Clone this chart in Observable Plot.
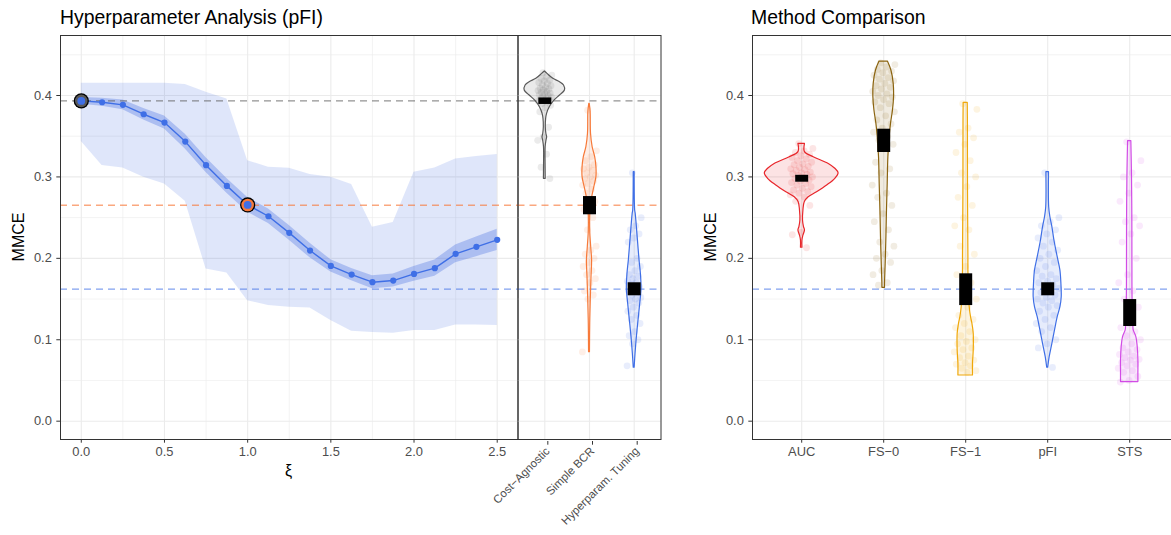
<!DOCTYPE html>
<html><head><meta charset="utf-8">
<script src="https://cdn.jsdelivr.net/npm/d3@7"></script>
<script src="https://cdn.jsdelivr.net/npm/@observablehq/plot@0.6"></script>
<style>
html,body{margin:0;padding:0;background:#fff;overflow:hidden;}
#root{position:relative;width:1171px;height:535px;overflow:hidden;font-family:"Liberation Sans",Arial,Helvetica,sans-serif;}
.abs{position:absolute;white-space:nowrap;line-height:1;color:#000;}
.title{font-size:19.4px;}
.ylab{font-size:16px;transform:translate(-50%,-50%) rotate(-90deg);}
</style></head><body><div id="root"></div>
<script>
// ---------- Data: hyperparameter curve ----------
const xi = [0,0.125,0.25,0.375,0.5,0.625,0.75,0.875,1,1.125,1.25,1.375,1.5,1.625,1.75,1.875,2,2.125,2.25,2.375,2.5];
const mmceMean  = [0.3934,0.3917,0.3885,0.377,0.3668,0.3434,0.3144,0.289,0.2656,0.2517,0.2313,0.2096,0.1907,0.1801,0.1707,0.1727,0.1809,0.1879,0.2055,0.2141,0.2227];
const innerLower= [0.3894,0.3867,0.3825,0.370,0.3588,0.3344,0.3054,0.280,0.2566,0.2427,0.2223,0.2006,0.1832,0.1726,0.1627,0.1647,0.1719,0.1779,0.1945,0.2021,0.2097];
const innerUpper= [0.3974,0.3967,0.3945,0.384,0.3748,0.3524,0.3234,0.298,0.2746,0.2607,0.2403,0.2186,0.1982,0.1876,0.1787,0.1807,0.1899,0.1979,0.2165,0.2261,0.2357];
const outerLower= [0.3434,0.314,0.311,0.2996,0.2914,0.270,0.187,0.182,0.148,0.142,0.140,0.139,0.1236,0.1105,0.1089,0.108,0.1113,0.1113,0.118,0.118,0.1175];
const outerUpper= [0.415,0.415,0.415,0.415,0.415,0.4134,0.404,0.3958,0.320,0.312,0.3107,0.303,0.2996,0.2906,0.2382,0.244,0.3058,0.311,0.322,0.325,0.3275];

// reference methods (left violin panel)
const refMethods = ["Cost\u2212Agnostic","Simple BCR","Hyperparam. Tuning"];
const refLevels  = [0.3934,0.2652,0.1621];
const refXi      = [0, 1.0];          // xi where the curve equals the first two references
const refColors  = ["#595959","#f77a3a","#3f6fe6"];
const refBoxLo   = [0.389,0.2535,0.154];
const refBoxHi   = [0.397,0.2759,0.170];

// violin profiles: [MMCE, half-width in category units]
const violinCostAgnostic = [[0.4295,0],[0.4266,0.06],[0.4205,0.19],[0.4163,0.34],[0.4123,0.43],[0.4061,0.45],[0.40,0.34],[0.3939,0.22],[0.3856,0.11],[0.3775,0.05],[0.3714,0.03],[0.361,0.022],[0.353,0.035],[0.3488,0.052],[0.344,0.035],[0.3365,0.018],[0.31,0.018],[0.2977,0.02]];
const violinSimpleBCR = [[0.3898,0.005],[0.38,0.025],[0.353,0.034],[0.3365,0.07],[0.324,0.128],[0.312,0.155],[0.2997,0.155],[0.2874,0.108],[0.275,0.06],[0.2588,0.022],[0.234,0.016],[0.2137,0.038],[0.1974,0.058],[0.177,0.045],[0.1523,0.03],[0.12,0.016],[0.0848,0.01]];
const violinHyperTuning = [[0.3058,0.01],[0.2588,0.022],[0.2547,0.034],[0.2383,0.06],[0.2178,0.09],[0.1974,0.12],[0.181,0.15],[0.1626,0.164],[0.1442,0.135],[0.1237,0.097],[0.1032,0.06],[0.0828,0.03],[0.0656,0.01]];

// jittered run results (left violin panel)
const runsCostAgnostic = [0.428,0.425,0.423,0.421,0.419,0.418,0.416,0.415,0.413,0.412,0.41,0.409,0.408,0.407,0.406,0.405,0.404,0.403,0.402,0.401,0.4,0.399,0.398,0.397,0.396,0.395,0.394,0.393,0.392,0.39,0.388,0.385,0.38,0.361,0.349,0.345,0.328,0.312,0.298];
const runsSimpleBCR = [0.382,0.332,0.325,0.32,0.315,0.312,0.31,0.308,0.305,0.302,0.3,0.298,0.295,0.292,0.29,0.285,0.28,0.27,0.265,0.26,0.25,0.235,0.215,0.21,0.205,0.2,0.195,0.19,0.185,0.18,0.175,0.17,0.16,0.155,0.15,0.085];
const runsHyperTuning = [0.305,0.25,0.24,0.235,0.23,0.225,0.22,0.2,0.195,0.19,0.185,0.18,0.178,0.175,0.172,0.17,0.168,0.165,0.163,0.16,0.158,0.155,0.152,0.15,0.148,0.145,0.14,0.135,0.13,0.125,0.12,0.11,0.105,0.1,0.095,0.068];

// ---------- Data: method comparison ----------
const methods = ["AUC","FS\u22120","FS\u22121","pFI","STS"];
const methodColors = ["#e8262b","#8b6410","#f0a80a","#3f6fe6","#d24ce6"];
const methodBoxLo = [0.2935,0.330,0.142,0.154,0.1163];
const methodBoxHi = [0.302,0.3586,0.181,0.170,0.1494];
const methodRef = [0.1621];
const violinAUC = [[0.3407,0.04],[0.3305,0.04],[0.3242,0.146],[0.316,0.33],[0.31,0.41],[0.3046,0.45],[0.2977,0.41],[0.2895,0.31],[0.2812,0.187],[0.275,0.085],[0.269,0.037],[0.2588,0.021],[0.2465,0.016],[0.2383,0.028],[0.2342,0.04],[0.228,0.021],[0.2219,0.009],[0.213,0.009]];
const violinFS0 = [[0.4417,0.051],[0.4307,0.094],[0.4143,0.122],[0.3979,0.126],[0.3816,0.113],[0.3652,0.089],[0.3488,0.073],[0.3242,0.057],[0.2916,0.049],[0.2588,0.04],[0.226,0.033],[0.1933,0.024],[0.1687,0.016],[0.1638,0.016]];
const violinFS1 = [[0.391,0.025],[0.3652,0.027],[0.2833,0.028],[0.2014,0.033],[0.185,0.033],[0.16,0.04],[0.14,0.049],[0.1277,0.065],[0.1196,0.082],[0.1073,0.098],[0.0868,0.098],[0.0705,0.089],[0.0561,0.089]];
const violinPFI = [[0.3058,0.016],[0.2628,0.018],[0.2505,0.033],[0.2383,0.057],[0.2219,0.082],[0.2014,0.122],[0.1851,0.155],[0.1687,0.167],[0.1523,0.171],[0.14,0.155],[0.1277,0.122],[0.1114,0.089],[0.095,0.057],[0.0786,0.024],[0.0656,0.006]];
const violinSTS = [[0.3439,0.02],[0.3,0.028],[0.25,0.032],[0.2,0.033],[0.15,0.035],[0.1163,0.045],[0.1114,0.049],[0.103,0.082],[0.0909,0.098],[0.0745,0.106],[0.0582,0.106],[0.048,0.106]];
const runsAUC = [0.341,0.335,0.332,0.33,0.328,0.326,0.324,0.322,0.32,0.318,0.316,0.315,0.313,0.312,0.31,0.309,0.308,0.306,0.305,0.304,0.303,0.302,0.3,0.299,0.298,0.296,0.295,0.293,0.292,0.29,0.288,0.286,0.284,0.282,0.28,0.278,0.275,0.27,0.265,0.232,0.229,0.213];
const runsFS0 = [0.44,0.438,0.435,0.432,0.43,0.428,0.425,0.422,0.42,0.418,0.415,0.412,0.41,0.408,0.405,0.402,0.4,0.398,0.395,0.392,0.39,0.385,0.38,0.375,0.37,0.365,0.36,0.355,0.35,0.345,0.34,0.335,0.318,0.31,0.305,0.29,0.28,0.275,0.265,0.255,0.245,0.235,0.22,0.215,0.205,0.2,0.195,0.185,0.18,0.17,0.167];
const runsFS1 = [0.39,0.383,0.36,0.355,0.348,0.34,0.33,0.32,0.305,0.3,0.288,0.275,0.265,0.25,0.24,0.235,0.215,0.205,0.19,0.18,0.17,0.16,0.15,0.14,0.13,0.125,0.12,0.115,0.11,0.105,0.1,0.098,0.095,0.09,0.088,0.085,0.08,0.078,0.075,0.072,0.07,0.068,0.065,0.062,0.06];
const runsPFI = [0.305,0.25,0.245,0.24,0.235,0.23,0.225,0.22,0.215,0.21,0.205,0.2,0.195,0.19,0.185,0.18,0.178,0.175,0.172,0.17,0.168,0.165,0.163,0.16,0.158,0.155,0.152,0.15,0.148,0.145,0.142,0.14,0.135,0.13,0.125,0.12,0.115,0.11,0.1,0.095,0.09,0.066];
const runsSTS = [0.343,0.32,0.305,0.3,0.29,0.28,0.27,0.25,0.245,0.24,0.23,0.22,0.2,0.18,0.17,0.16,0.15,0.14,0.12,0.115,0.11,0.105,0.1,0.095,0.09,0.088,0.085,0.082,0.08,0.078,0.076,0.075,0.072,0.07,0.068,0.065,0.062,0.06,0.055,0.05,0.048];

const yMajor = [0,0.1,0.2,0.3,0.4];
const yMinor = [0.05,0.15,0.25,0.35,0.45];
const xMajor = [0,0.5,1,1.5,2,2.5];
const xMinor = [0.25,0.75,1.25,1.75,2.25];

// ---------- layout ----------
const root = document.getElementById("root");
const yDomain = [-0.0225, 0.4737];
const font = '"Liberation Sans", Arial, Helvetica, sans-serif';
const baseStyle = {fontFamily: font, fontSize: "12.9px", color: "#4d4d4d", background: "transparent", overflow: "visible"};
const gridCol = "#ebebeb";
const blue = "#3f6fe6";
const dashOpts = {strokeOpacity: 0.65, strokeWidth: 1.3, strokeDasharray: "7,5"};

function place(el, left, top) {
  el.style.position = "absolute"; el.style.left = left + "px"; el.style.top = top + "px";
  root.appendChild(el);
}
function text(str, cls, left, top, extra) {
  const d = document.createElement("div");
  d.className = "abs " + cls; d.textContent = str;
  d.style.left = left + "px"; d.style.top = top + "px";
  if (extra) Object.assign(d.style, extra);
  root.appendChild(d);
}
// deterministic spread (golden-ratio sequence) for jittered points
function spread(i) { const f = (i * 0.6180339887 + 0.37) % 1; return f - 0.5; }

function violinMarks(profiles, runs, colors, boxLo, boxHi, jitter) {
  const marks = [];
  profiles.forEach((prof, k) => {
    const pos = k + 1;
    marks.push(Plot.areaX(prof, {
      y: d => d[0], x1: d => pos - d[1], x2: d => pos + d[1],
      fill: colors[k], fillOpacity: 0.13, stroke: colors[k], strokeWidth: 1.2, curve: "catmull-rom"
    }));
  });
  runs.forEach((vals, k) => {
    const pos = k + 1;
    marks.push(Plot.dot(vals, {
      y: d => d, x: (d, i) => pos + spread(i) * 2 * jitter,
      r: 3.4, fill: colors[k], fillOpacity: 0.12, stroke: null
    }));
  });
  marks.push(Plot.ruleX(boxLo.map((lo, k) => ({pos: k + 1, lo, hi: boxHi[k]})), {
    x: "pos", y1: "lo", y2: "hi", stroke: "black", strokeWidth: 13, strokeLinecap: "butt"
  }));
  return marks;
}

// ---------- Panel 1: hyperparameter curve ----------
const curve = xi.map((x, i) => ({xi: x, mean: mmceMean[i], iLo: innerLower[i], iHi: innerUpper[i], oLo: outerLower[i], oHi: outerUpper[i]}));
const highlights = refXi.map((x, i) => ({xi: x, y: mmceMean[xi.indexOf(x)], color: refColors[i]}));
const refRows = refLevels.map((v, i) => ({v, c: refColors[i]}));

const p1 = Plot.plot({
  width: 518, height: 510, marginTop: 10, marginBottom: 96, marginLeft: 60, marginRight: 0.5,
  style: baseStyle,
  x: {domain: [-0.125, 2.625], label: null},
  y: {domain: yDomain, label: null},
  marks: [
    Plot.ruleY(yMinor, {stroke: gridCol, strokeWidth: 0.6}),
    Plot.ruleX(xMinor, {stroke: gridCol, strokeWidth: 0.6}),
    Plot.ruleY(yMajor, {stroke: gridCol, strokeWidth: 1.1}),
    Plot.ruleX(xMajor, {stroke: gridCol, strokeWidth: 1.1}),
    Plot.areaY(curve, {x: "xi", y1: "oLo", y2: "oHi", fill: "#4169e1", fillOpacity: 0.17}),
    Plot.areaY(curve, {x: "xi", y1: "iLo", y2: "iHi", fill: "#4169e1", fillOpacity: 0.32}),
    Plot.ruleY(refRows, {y: "v", stroke: "c", ...dashOpts}),
    Plot.line(curve, {x: "xi", y: "mean", stroke: blue, strokeWidth: 1.4}),
    Plot.dot(curve, {x: "xi", y: "mean", r: 3.1, fill: blue, stroke: null}),
    Plot.dot(highlights, {x: "xi", y: "y", r: 7.6, fill: "black", stroke: null}),
    Plot.dot(highlights, {x: "xi", y: "y", r: 6.3, fill: "color", stroke: null}),
    Plot.dot(highlights, {x: "xi", y: "y", r: 3.9, fill: blue, stroke: null}),
    Plot.frame({stroke: "#333", strokeWidth: 1}),
    Plot.axisY({ticks: yMajor, tickFormat: d3.format(".1f"), tickSize: 3.7, tickPadding: 5, stroke: "#333", fill: "#4d4d4d", label: null, fontSize: 12.9}),
    Plot.axisX({ticks: xMajor, tickFormat: d3.format(".1f"), tickSize: 3.7, tickPadding: 4, stroke: "#333", fill: "#4d4d4d", label: null, fontSize: 12.9})
  ]
});
place(p1, 0, 25);

// ---------- Panel 2: reference violins ----------
const p2 = Plot.plot({
  width: 144, height: 510, marginTop: 10, marginBottom: 96, marginLeft: 0.5, marginRight: 0.5,
  style: baseStyle,
  x: {domain: [0.4, 3.6], label: null},
  y: {domain: yDomain, label: null, axis: null},
  marks: [
    Plot.ruleY(yMinor, {stroke: gridCol, strokeWidth: 0.6}),
    Plot.ruleY(yMajor, {stroke: gridCol, strokeWidth: 1.1}),
    Plot.ruleX([1, 2, 3], {stroke: gridCol, strokeWidth: 1.1}),
    Plot.ruleY(refRows, {y: "v", stroke: "c", ...dashOpts}),
    ...violinMarks([violinCostAgnostic, violinSimpleBCR, violinHyperTuning],
                   [runsCostAgnostic, runsSimpleBCR, runsHyperTuning],
                   refColors, refBoxLo, refBoxHi, 0.16),
    Plot.frame({stroke: "#333", strokeWidth: 1}),
    Plot.axisX({ticks: [1, 2, 3], tickFormat: d => refMethods[d - 1], tickSize: 3.7, tickPadding: 4, tickRotate: -45,
                dx: 3, dy: 2, stroke: "#333", fill: "#4d4d4d", label: null, fontSize: 11.5})
  ]
});
place(p2, 517, 25);

// ---------- Panel 3: method comparison ----------
const p3 = Plot.plot({
  width: 500, height: 510, marginTop: 10, marginBottom: 96, marginLeft: 62, marginRight: 11.6,
  style: baseStyle,
  x: {domain: [0.4, 5.6], label: null},
  y: {domain: yDomain, label: null},
  marks: [
    Plot.ruleY(yMinor, {stroke: gridCol, strokeWidth: 0.6}),
    Plot.ruleY(yMajor, {stroke: gridCol, strokeWidth: 1.1}),
    Plot.ruleX([1, 2, 3, 4, 5], {stroke: gridCol, strokeWidth: 1.1}),
    Plot.ruleY(methodRef, {stroke: blue, ...dashOpts}),
    ...violinMarks([violinAUC, violinFS0, violinFS1, violinPFI, violinSTS],
                   [runsAUC, runsFS0, runsFS1, runsPFI, runsSTS],
                   methodColors, methodBoxLo, methodBoxHi, 0.14),
    Plot.frame({stroke: "#333", strokeWidth: 1}),
    Plot.axisY({ticks: yMajor, tickFormat: d3.format(".1f"), tickSize: 3.7, tickPadding: 5, stroke: "#333", fill: "#4d4d4d", label: null, fontSize: 12.9}),
    Plot.axisX({ticks: [1, 2, 3, 4, 5], tickFormat: d => methods[d - 1], tickSize: 3.7, tickPadding: 4, stroke: "#333", fill: "#4d4d4d", label: null, fontSize: 12.9})
  ]
});
place(p3, 690, 25);

// ---------- titles and axis titles ----------
text("Hyperparameter Analysis (pFI)", "title", 60, 7.5);
text("Method Comparison", "title", 751, 7.5);
text("MMCE", "ylab", 19, 237);
text("MMCE", "ylab", 710.5, 237);
text("\u03be", "", 288.7, 463, {fontSize: "16px", transform: "translateX(-50%)"});
</script></body></html>
